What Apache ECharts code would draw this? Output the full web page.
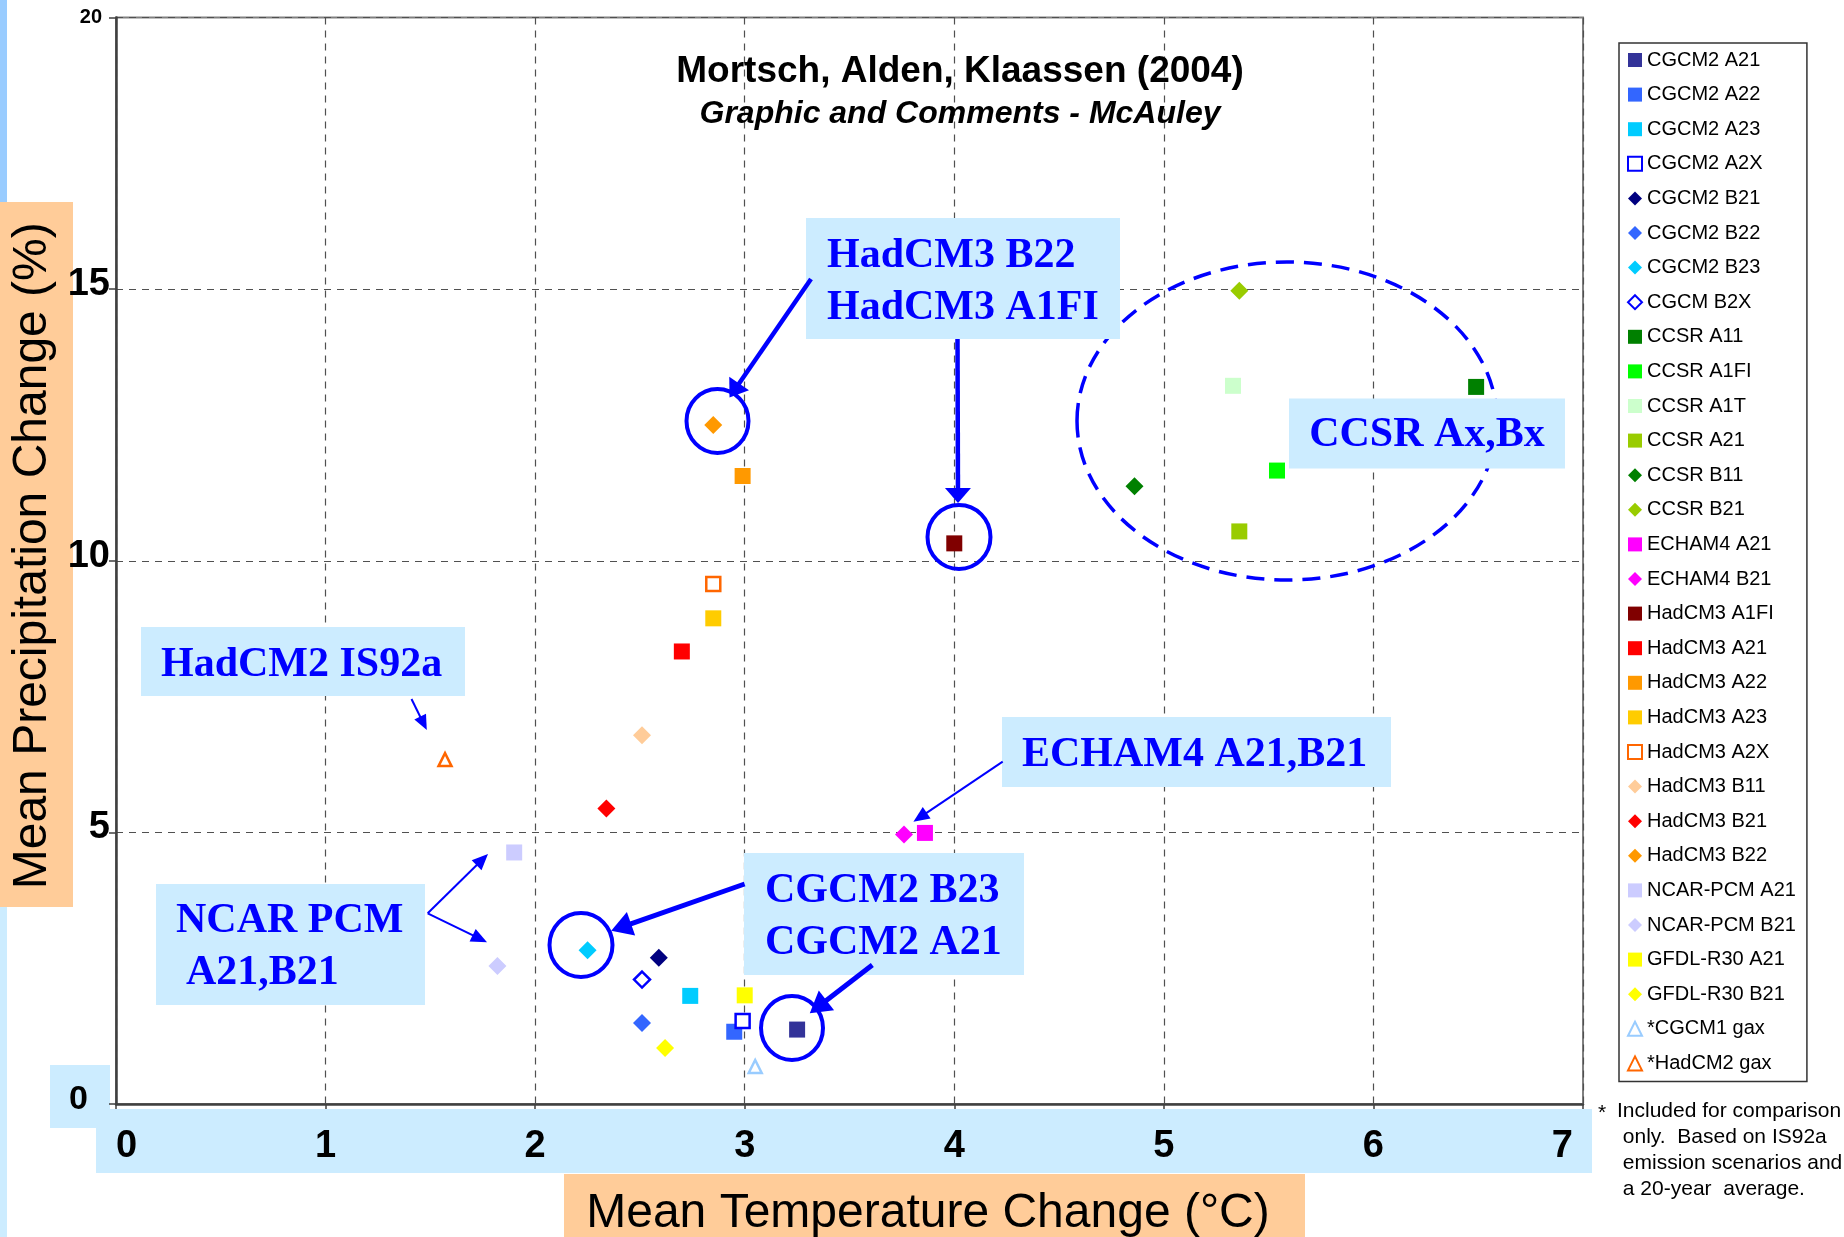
<!DOCTYPE html>
<html><head><meta charset="utf-8">
<script src="https://cdn.jsdelivr.net/npm/echarts@6/dist/echarts.min.js"></script>
<style>html,body{margin:0;padding:0;background:#fff}#c{width:1844px;height:1237px;background:#fff}</style>
</head><body><div id="c"></div>
<script>
// ---- data ----
const seriesNames = ['CGCM2 A21','CGCM2 A22','CGCM2 A23','CGCM2 A2X','CGCM2 B21','CGCM2 B22','CGCM2 B23','CGCM B2X',
  'CCSR A11','CCSR A1FI','CCSR A1T','CCSR A21','CCSR B11','CCSR B21','ECHAM4 A21','ECHAM4 B21',
  'HadCM3 A1FI','HadCM3 A21','HadCM3 A22','HadCM3 A23','HadCM3 A2X','HadCM3 B11','HadCM3 B21','HadCM3 B22',
  'NCAR-PCM A21','NCAR-PCM B21','GFDL-R30 A21','GFDL-R30 B21','*CGCM1 gax','*HadCM2 gax'];
const tempChange   = [3.25,2.95,2.74,2.99,2.59,2.51,2.25,2.51, 6.49,5.54,5.33,5.36,4.86,5.36, 3.86,3.76,
  4.00,2.70,2.99,2.85,2.85,2.51,2.34,2.85, 1.90,1.82, 3.00,2.62, 3.05,1.57];
const precipChange = [1.37,1.33,1.99,1.53,2.69,1.49,2.83,2.29, 13.20,11.66,13.22,10.54,11.37,14.97, 4.99,4.96,
  10.32,8.33,11.56,8.94,9.57,6.79,5.44,12.50, 4.63,2.54, 2.00,1.03, 0.69,6.34];
const xTickLabels = ['0','1','2','3','4','5','6','7'];
const yTickLabels = {0:'0',5:'5',10:'10',15:'15',20:'20'};
const chartTitle = 'Mortsch, Alden, Klaassen (2004)';
const chartSubtitle = 'Graphic and Comments - McAuley';
const xName = 'Mean Temperature Change (\u00B0C)';
const yName = 'Mean Precipitation Change (%)';

// ---- styles ----
const markerStyles = [
 ['rect','#333399'],['rect','#3366FF'],['rect','#00CCFF'],['rectHollow','#0000FF'],
 ['diamond','#000080'],['diamond','#3366FF'],['diamond','#00CCFF'],['diamondHollow','#0000FF'],
 ['rect','#008000'],['rect','#00FF00'],['rect','#CCFFCC'],['rect','#99CC00'],
 ['diamond','#008000'],['diamond','#99CC00'],
 ['rect','#FF00FF'],['diamond','#FF00FF'],
 ['rect','#800000'],['rect','#FF0000'],['rect','#FF9900'],['rect','#FFCC00'],['rectHollow','#FF6600'],
 ['diamond','#FFCC99'],['diamond','#FF0000'],['diamond','#FF9900'],
 ['rect','#CCCCFF'],['diamond','#CCCCFF'],
 ['rect','#FFFF00'],['diamond','#FFFF00'],
 ['triangleHollow','#99CCFF'],['triangleHollow','#FF6600']
];
const SANS = "'Liberation Sans', Arial, sans-serif";
const SERIF = "'Liberation Serif', 'Times New Roman', serif";
const BLUE = '#0000FF';
const BOX = '#CCECFF';
const PEACH = '#FFCC99';

const series = seriesNames.map((name, i) => {
  const [kind, color] = markerStyles[i];
  const hollow = kind.indexOf('Hollow') > 0;
  const base = kind.replace('Hollow','');
  let size = base === 'rect' ? 16 : (base === 'diamond' ? 18 : 15);
  if (hollow) size -= 2;
  return {
    type: 'scatter', name,
    data: [[tempChange[i], precipChange[i]]],
    symbol: base, symbolSize: size, z: 3,
    itemStyle: hollow ? {color:'#FFFFFF', borderColor: color, borderWidth: 2.5, opacity: 1}
                      : {color: color, opacity: 1},
    emphasis: {disabled: true}
  };
});

function txt(text, x, y, font, fill, align, z) {
  return {type:'text', z: z || 46, silent: true,
    style:{text, x, y, font, fill, align: align || 'left', verticalAlign:'middle'}};
}
function arrow(x1, y1, x2, y2, lw, hl, hw) {
  const dx = x2 - x1, dy = y2 - y1, L = Math.hypot(dx, dy), ux = dx / L, uy = dy / L;
  const bx = x2 - ux * hl, by = y2 - uy * hl, px = -uy, py = ux;
  return [
    {type:'line', z:50, silent:true, shape:{x1, y1, x2: bx + ux, y2: by + uy}, style:{stroke: BLUE, lineWidth: lw}},
    {type:'polygon', z:50, silent:true, shape:{points:[[x2, y2],[bx + px*hw/2, by + py*hw/2],[bx - px*hw/2, by - py*hw/2]]}, style:{fill: BLUE}}
  ];
}
function ring(cx, cy, rx, ry) {
  return {type:'ellipse', z:41, silent:true, shape:{cx, cy, rx, ry}, style:{fill:null, stroke: BLUE, lineWidth: 4}};
}
function box(x, y, w, h, fill, z) {
  return {type:'rect', z: z, silent:true, shape:{x, y, width:w, height:h}, style:{fill}};
}
const ANN = "bold 42px " + SERIF;

const graphics = [
  // backgrounds
  box(0, 0, 7, 202, '#99CCFF', -1),
  box(0, 907, 7, 330, BOX, -1),
  box(0, 202, 73, 705, PEACH, -1),
  box(564, 1174, 741, 63, PEACH, -1),
  box(96, 1109, 1496, 64, BOX, -1),
  box(50, 1065, 60, 63, BOX, -1),
  // CCSR dashed ellipse
  {type:'ellipse', z:40, silent:true, shape:{cx:1287, cy:421, rx:210, ry:159},
   style:{fill:null, stroke: BLUE, lineWidth: 3.5, lineDash:[18, 10]}},
  // circles
  ring(717.5, 421, 31, 32),
  ring(959, 537, 31.5, 32),
  ring(581, 945, 31.5, 32),
  ring(792, 1028, 31, 32),
  // annotation boxes
  box(806, 218, 314, 121, BOX, 45),
  txt('HadCM3 B22', 827, 256, ANN, BLUE),
  txt('HadCM3 A1FI', 827, 308, ANN, BLUE),
  box(1289, 398.5, 276, 70, BOX, 45),
  txt('CCSR Ax,Bx', 1427, 435, ANN, BLUE, 'center'),
  box(141, 627, 324, 69, BOX, 45),
  txt('HadCM2 IS92a', 161, 665, ANN, BLUE),
  box(1002, 717, 389, 70, BOX, 45),
  txt('ECHAM4 A21,B21', 1022, 755, ANN, BLUE),
  box(156, 884, 269, 121, BOX, 45),
  txt('NCAR PCM', 176, 921, ANN, BLUE),
  txt('A21,B21', 186, 973, ANN, BLUE),
  box(744, 853, 280, 122, BOX, 45),
  txt('CGCM2 B23', 765, 891, ANN, BLUE),
  txt('CGCM2 A21', 765, 943, ANN, BLUE),
  // footnote
  txt('*', 1598, 1113, "21px " + SANS, '#000'),
  {type:'text', z:46, silent:true, style:{text:'Included for comparison\n only.  Based on IS92a\n emission scenarios and\n a 20-year  average.',
    x:1617, y:1098, font:"21px " + SANS, fill:'#000', align:'left', verticalAlign:'top', lineHeight:26}}
].concat(
  arrow(811, 279, 729.5, 397.5, 4.5, 17, 24),
  arrow(957.5, 339, 958, 503, 4.5, 15, 26),
  arrow(411.5, 699, 426.8, 730, 2, 15, 13),
  arrow(1002.7, 761.7, 913.4, 821.7, 2, 16, 14),
  arrow(427.7, 913.3, 488, 854, 2, 16, 14),
  arrow(427.7, 913.3, 487, 942.3, 2, 16, 14),
  arrow(744.6, 884, 611.2, 930.7, 5, 21, 25),
  arrow(872.3, 965, 809.8, 1013.3, 5, 21, 25)
);

const chart = echarts.init(document.getElementById('c'), null, {renderer:'canvas'});
chart.setOption({
  animation: false,
  tooltip: {show: false},
  title: [
    {text: chartTitle, left: 960, top: 53, textAlign: 'center', padding: 0,
     textStyle: {fontSize: 37, fontWeight: 'bold', fontFamily: SANS, color: '#000'}},
    {text: chartSubtitle, left: 960, top: 98, textAlign: 'center', padding: 0,
     textStyle: {fontSize: 32, fontWeight: 'bold', fontStyle: 'italic', fontFamily: SANS, color: '#000'}}
  ],
  grid: {left: 116, right: 261, top: 17.5, bottom: 133, show: true, borderColor: '#808080', borderWidth: 2,
         backgroundColor: 'transparent', containLabel: false, outerBoundsMode: 'none'},
  legend: {
    orient: 'vertical', left: 1619, top: 43, padding: [7, 11, 8, 8],
    itemWidth: 14, itemHeight: 14, itemGap: 14.6,
    borderColor: '#333333', borderWidth: 1.5, selectedMode: false,
    data: seriesNames,
    textStyle: {fontSize: 20, lineHeight: 20, fontFamily: SANS, color: '#000'}
  },
  xAxis: {
    type: 'value', min: 0, max: 7, interval: 1,
    axisLine: {show: true, onZero: false, lineStyle: {color: '#404040', width: 2.5}},
    axisTick: {show: true, length: 5, lineStyle: {color: '#404040', width: 1.5}},
    splitLine: {show: true, lineStyle: {color: '#505050', width: 1.2, type: [7, 6]}},
    axisLabel: {fontSize: 38, fontWeight: 'bold', fontFamily: SANS, color: '#000', margin: 24,
      alignMinLabel: 'left', alignMaxLabel: 'right',
      formatter: v => v === 7 ? '{r|' + xTickLabels[v] + '}' : xTickLabels[v],
      rich: {r: {fontSize: 38, fontWeight: 'bold', fontFamily: SANS, color: '#000', padding: [0, 10, 0, 0]}}},
    name: xName, nameLocation: 'middle', nameGap: 86,
    nameTextStyle: {fontSize: 48, fontFamily: SANS, color: '#000', padding: [0, 0, 0, 157]}
  },
  yAxis: {
    type: 'value', min: 0, max: 20, interval: 5,
    axisLine: {show: true, onZero: false, lineStyle: {color: '#404040', width: 2.5}},
    axisTick: {show: true, length: 7, lineStyle: {color: '#404040', width: 1.5}},
    splitLine: {show: true, lineStyle: {color: '#505050', width: 1.2, type: [7, 6]}},
    axisLabel: {margin: 6, color: '#000',
      formatter: v => v === 20 ? '{s|' + yTickLabels[v] + '}' : (v === 0 ? '{z|' + yTickLabels[v] + '}' : '{b|' + yTickLabels[v] + '}'),
      rich: {
        s: {fontSize: 20, fontWeight: 'bold', fontFamily: SANS, color: '#000', padding: [0, 8, 0, 0]},
        z: {fontSize: 34, fontWeight: 'bold', fontFamily: SANS, color: '#000', padding: [0, 22, 8, 0]},
        b: {fontSize: 38, fontWeight: 'bold', fontFamily: SANS, color: '#000', padding: [0, 0, 9, 0]}
      }},
    name: yName, nameLocation: 'middle', nameGap: 49, nameRotate: 90,
    nameTextStyle: {fontSize: 48, fontFamily: SANS, color: '#000', padding: [0, 0, 0, 10]}
  },
  graphic: {elements: graphics},
  series: series
});
</script></body></html>
